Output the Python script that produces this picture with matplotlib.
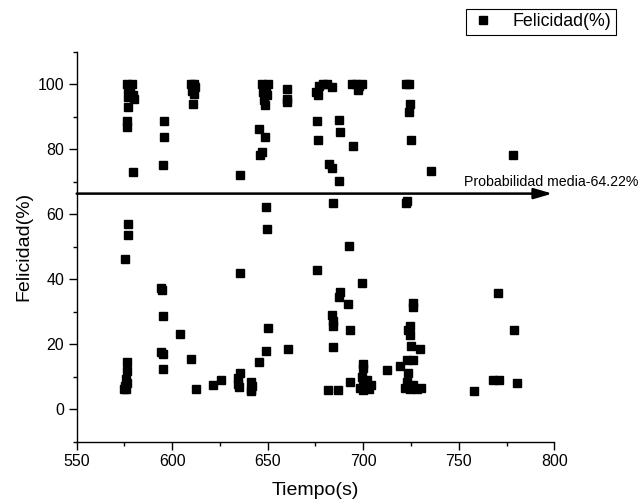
import matplotlib
matplotlib.use("Agg")
import matplotlib.pyplot as plt
from matplotlib.ticker import MultipleLocator

plt.rcParams['font.family'] = ['Liberation Sans', 'DejaVu Sans']

# Tiempo(s) vs Felicidad(%)
tiempo = [
    576.5, 577.5, 579, 577, 578, 579.5, 577, 580, 577, 576.5, 576.5, 579.5,
    576.7, 576.7, 575.5, 576.2, 576.5, 576, 576.5, 575.5, 576, 575,
    595.7, 595.7, 595.3, 594.3, 594.7, 595, 604.3, 594.3, 595.3, 595.3,
    610, 611.5, 612, 610.5, 611.5, 611, 609.8, 612.5,
    621.5, 625.5,
    635.5, 635.7, 635.5, 634.5, 634.3, 635,
    641.5, 642, 641.5, 641.5,
    645.5, 648.6, 647, 646, 647, 648.5, 650, 649, 647.5, 649.5, 648, 648.5,
    649.2, 649.8, 650.3, 649.1, 645.4,
    660, 660, 660, 660.4,
    675.5, 677, 679, 681, 683.5, 676.5, 676, 676.4, 682, 683.8, 676,
    687.5, 687.8, 687.3, 684, 683.8, 684.2, 684.2, 684.3, 687.8, 687.5,
    681.6, 687,
    694, 696, 698, 699.5, 697, 694.8, 692.7, 699.2, 692.2, 693.1, 693.1,
    700, 700, 699.5, 702, 700, 701, 703, 700, 704, 698.5,
    712.6, 719.3,
    722.5, 724, 724.3, 724, 725, 723, 722.5, 725.9, 726, 724.5, 723.5,
    724.5, 725.2, 729.6, 722.7, 726, 723.6, 723, 722, 724.5, 726, 728, 730,
    735.3, 758, 767.8, 771.3, 770.7, 779, 780.4, 778.6,
]
felicidad = [
    100, 99.5, 100, 98.5, 97.5, 96.5, 96, 95.5, 93, 88.5, 86.8, 73,
    57.1, 53.5, 46.1, 14.6, 11.6, 9.2, 8.2, 7.2, 6.3, 6.1,
    88.6, 83.7, 75, 37.2, 36.7, 28.6, 23.1, 17.7, 17, 12.5,
    100, 100, 99, 98, 97, 94, 15.4, 6.1,
    7.4, 8.9,
    72, 41.9, 11.2, 9.5, 7.8, 6.8,
    8.5, 7.2, 6, 5.5,
    86.1, 83.7, 79, 78.2, 100, 99.5, 100, 98.5, 97.5, 96.5, 95, 93.5,
    62.1, 55.3, 25, 17.8, 14.5,
    98.5, 95.5, 94.5, 18.4,
    97.5, 99.5, 100, 100, 99, 96.5, 88.6, 82.8, 75.4, 74.1, 42.9,
    88.9, 85.2, 70.1, 63.3, 28.9, 27, 25.7, 19.2, 35.9, 34.6,
    5.8, 5.8,
    100, 100, 99.5, 100, 98.3, 81, 50.3, 38.7, 32.3, 24.3, 8.4,
    14, 12.8, 10, 9, 8, 7, 6.3, 5.9, 7.5, 6.5,
    11.9, 13.4,
    100, 100, 93.8, 91.5, 82.8, 64, 63.5, 32.8, 31.5, 25.5, 24.2,
    22.7, 19.4, 18.4, 15.1, 15.1, 11, 8.5, 6.5, 6.2, 7.5, 6.2, 6.4,
    73.3, 5.5, 8.9, 9.0, 35.6, 24.3, 8.1, 78.2,
]
media = 64.22      # value quoted in the label
media_y = 66.3     # height at which the arrow is drawn in the original

fig = plt.figure(figsize=(6.43, 5.04), dpi=100)
ax = fig.add_axes([0.1193, 0.1236, 0.7427, 0.7742])

ax.plot(tiempo, felicidad, 's', color='black', markersize=6,
        linestyle='none', label='Felicidad(%)')

ax.set_xlim(550, 800)
ax.set_ylim(-10, 110)
ax.xaxis.set_major_locator(MultipleLocator(50))
ax.xaxis.set_minor_locator(MultipleLocator(25))
ax.yaxis.set_major_locator(MultipleLocator(20))
ax.yaxis.set_minor_locator(MultipleLocator(10))
ax.set_yticks([0, 20, 40, 60, 80, 100])
ax.tick_params(which='major', direction='out', length=6, width=1, labelsize=11.5, pad=3)
ax.tick_params(which='minor', direction='out', length=3, width=1)

for side in ["top", "right"]:
    ax.spines[side].set_visible(False)
for side in ["left", "bottom"]:
    ax.spines[side].set_linewidth(1.0)

ax.set_xlabel("Tiempo(s)", fontsize=14, labelpad=9)
ax.set_ylabel("Felicidad(%)", fontsize=14, labelpad=4)

# mean arrow
ax.annotate('', xy=(799, media_y), xytext=(550, media_y),
            arrowprops=dict(arrowstyle='-|>,head_length=1.1,head_width=0.32',
                            color='black', lw=1.8, mutation_scale=10,
                            shrinkA=0, shrinkB=0),
            annotation_clip=False)
ax.text(752.8, 69.9, "Probabilidad media-{:.2f}%".format(media),
        fontsize=10.2, va='center', ha='left', clip_on=False)

leg = ax.legend(loc='upper left', bbox_to_anchor=(465.7 / 643, 1 - 9 / 504),
                bbox_transform=fig.transFigure, borderaxespad=0,
                fontsize=12.8, frameon=True, fancybox=False, framealpha=1,
                borderpad=0.25, handlelength=1.5, handletextpad=0.9,
                markerscale=1.0)
leg.get_frame().set_edgecolor('black')
leg.get_frame().set_linewidth(0.8)

fig.savefig("out.png", dpi=100)
